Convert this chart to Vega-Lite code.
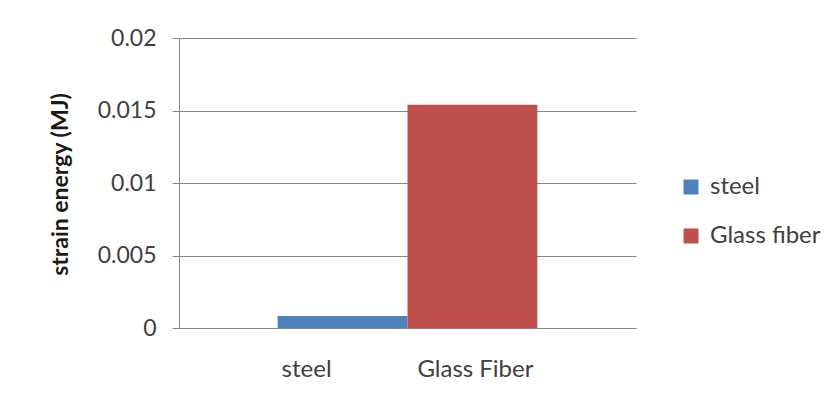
{
  "$schema": "https://vega.github.io/schema/vega-lite/v6.json",
  "autosize": {"type": "none"},
  "width": 457,
  "height": 290,
  "padding": {"left": 179, "top": 38, "right": 191, "bottom": 79},
  "background": "#ffffff",
  "data": {
    "values": [
      {"category": "steel", "series": "steel", "value": 0.00083},
      {"category": "Glass Fiber", "series": "Glass fiber", "value": 0.0154}
    ]
  },
  "mark": {"type": "bar"},
  "encoding": {
    "x": {
      "field": "category",
      "type": "nominal",
      "sort": ["steel", "Glass Fiber"],
      "scale": {"paddingInner": 0, "paddingOuter": 0.76},
      "axis": {
        "title": null,
        "labelAngle": 0,
        "ticks": false,
        "labelPadding": 29,
        "labelFont": "Lato",
        "labelFontSize": 24,
        "labelColor": "#404040",
        "domainColor": "#868686",
        "domainWidth": 1.2,
        "labelOffset": {"condition": {"test": "datum.value === 'steel'", "value": -36}, "value": 3}
      }
    },
    "y": {
      "field": "value",
      "type": "quantitative",
      "scale": {"domain": [0, 0.02], "nice": false},
      "axis": {
        "values": [0, 0.005, 0.01, 0.015, 0.02],
        "format": "~g",
        "title": "strain energy (MJ)",
        "titleFont": "Lato",
        "titleFontSize": 23,
        "titleFontWeight": "bold",
        "titleColor": "#1a1a1a",
        "titleX": -119,
        "titleY": 146,
        "titleAngle": -90,
        "titleAlign": "center",
        "titleBaseline": "middle",
        "labelFont": "Lato",
        "labelFontSize": 23,
        "labelColor": "#404040",
        "labelPadding": 16,
        "tickSize": 7,
        "tickColor": "#868686",
        "domainColor": "#868686",
        "gridColor": "#868686",
        "grid": true
      }
    },
    "color": {
      "field": "series",
      "type": "nominal",
      "sort": ["steel", "Glass fiber"],
      "scale": {"domain": ["steel", "Glass fiber"], "range": ["#4F81BD", "#C0504D"]},
      "legend": {
        "title": null,
        "orient": "none",
        "legendX": 500,
        "legendY": 137,
        "padding": 0,
        "symbolType": "square",
        "symbolSize": 225,
        "symbolStrokeWidth": 0,
        "symbolOpacity": 1,
        "labelFont": "Lato",
        "labelFontSize": 24,
        "labelColor": "#404040",
        "labelOffset": 7,
        "rowPadding": 25
      }
    }
  },
  "config": {
    "view": {"stroke": null},
    "bar": {"opacity": 1}
  }
}
